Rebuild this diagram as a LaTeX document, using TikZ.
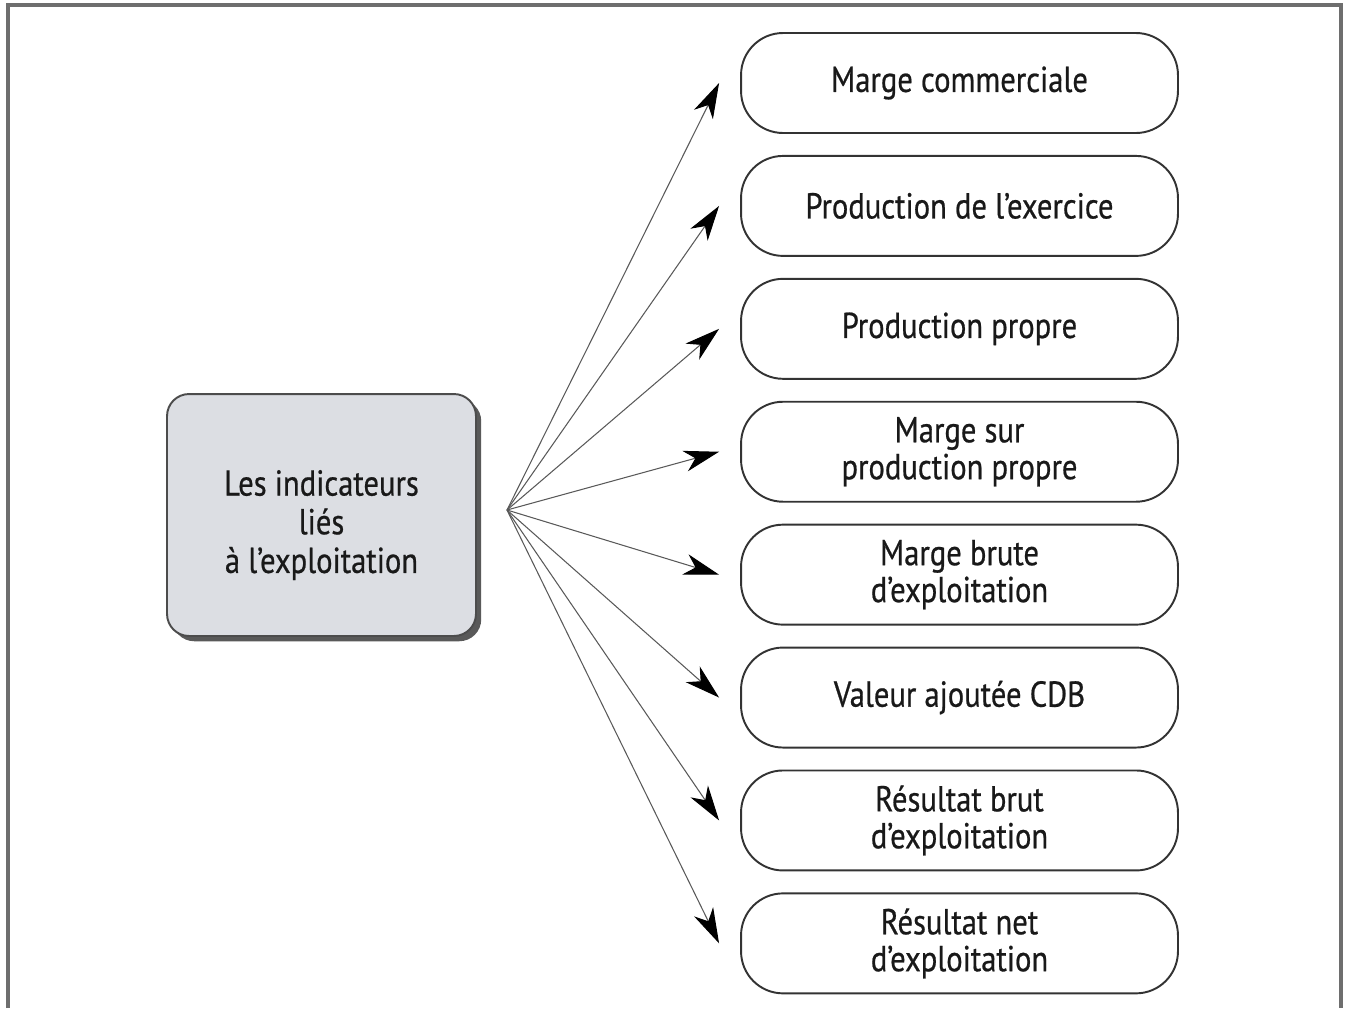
\documentclass[tikz,border=0pt]{standalone}
\usepackage{fontspec}
\newfontfamily\indfont[FakeStretch=0.85, FakeBold=0.6]{PT Sans}
\usetikzlibrary{positioning, arrows.meta, shadows}
\definecolor{boxgray}{HTML}{DCDEE3}
\definecolor{framegray}{HTML}{6E6E6E}

\begin{document}
\begin{tikzpicture}[x=0.02cm, y=-0.02cm,
    every node/.style={font=\indfont\fontsize{20.5}{21}\selectfont, align=center, text=black!90},
    indic/.style={draw=black!80, line width=1.1pt, rounded corners=0.84cm,
      minimum width=8.74cm, minimum height=2cm},
    theme/.style={draw=black!70, line width=1.1pt, fill=boxgray, rounded corners=0.44cm,
      minimum width=6.18cm, minimum height=4.84cm,
      drop shadow={shadow xshift=3pt, shadow yshift=-3pt, fill=black!65, opacity=1}},
    fan/.style={draw=black!65, line width=0.6pt, -{Stealth[length=20pt, width=12pt, inset=6pt, black]}}
  ]
  \useasboundingbox (0,0) rectangle (1348,1008);
  % outer frame
  \draw[framegray, line width=2pt] (8,1008) -- (8,5) -- (1341,5) -- (1341,1008);

  % left box
  \node[theme, font=\indfont\fontsize{20.5}{22}\selectfont] (ind) at (321.5,515)
    {\rule{0pt}{26pt}Les indicateurs\\ liés\\ à l’exploitation};
  \coordinate (hub) at (507,510);

  % right column
  \node[indic] (b1) at (959.5,83) {Marge commerciale};
  \foreach \txt [count=\i from 2] in {Production de l’exercice, Production propre,
      {Marge sur\\production propre}, {Marge brute\\d’exploitation}, Valeur ajoutée CDB,
      {Résultat brut\\d’exploitation}, {Résultat net\\d’exploitation}}{
    \pgfmathtruncatemacro\j{\i-1}
    \node[indic, below=0.42cm of b\j] (b\i) {\txt};
  }

  % arrows
  \foreach \i in {1,...,8}{
    \coordinate (t\i) at ([xshift=-0.42cm]b\i.west);
    \draw[fan] (hub) -- (t\i);
  }
\end{tikzpicture}
\end{document}
